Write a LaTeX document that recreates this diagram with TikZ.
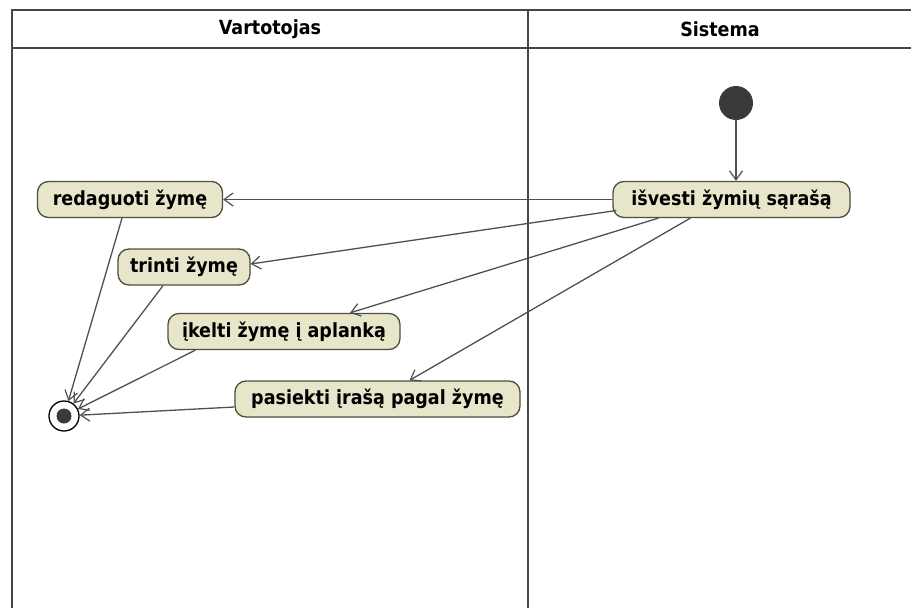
\documentclass[tikz,border=0pt]{standalone}
\usepackage{fontspec}
\setmainfont{DejaVu Sans Condensed}
\usetikzlibrary{arrows.meta}
\definecolor{actfill}{RGB}{232,230,202}
\definecolor{actline}{RGB}{78,78,62}
\definecolor{flowline}{RGB}{80,80,80}
\definecolor{laneline}{RGB}{70,70,70}
\definecolor{dot}{RGB}{58,58,58}
\tikzset{
  action/.style={draw=actline, fill=actfill, line width=1.3pt, rounded corners=11pt,
    inner sep=0pt, minimum height=36pt, font=\bfseries\fontsize{19.5}{21}\selectfont},
  flow/.style={draw=flowline, line width=1.3pt,
    -{Straight Barb[length=9pt,width=13pt,line width=1.2pt]}},
  lane/.style={draw=laneline, line width=2.6pt},
  lanetitle/.style={font=\bfseries\fontsize{19.5}{21}\selectfont},
  initial/.style={circle, fill=dot, inner sep=0pt, minimum size=34pt},
  final/.style={circle, draw=black, line width=1.3pt, fill=white, inner sep=0pt, minimum size=30pt},
}
\begin{document}
\begin{tikzpicture}[x=1pt,y=-1pt]
\useasboundingbox (0,0) rectangle (911,608);
% swimlane frame
\draw[lane] (12,620) -- (12,10) -- (920,10);
\draw[lane] (12,48) -- (920,48);
\draw[lane] (528,10) -- (528,620);
\node[lanetitle] (laneA) at (270,29) {Vartotojas};
\node[lanetitle] (laneB) at (720,29) {Sistema};

% activities
\node[action, minimum width=185pt] (redaguoti) at (130,199.5) {redaguoti žymę};
\node[action, minimum width=132pt] (trinti) at (184,267) {trinti žymę};
\node[action, minimum width=232pt] (ikelti) at (284,331.5) {įkelti žymę į aplanką};
\node[action, minimum width=285pt] (pasiekti) at (377.5,399) {pasiekti įrašą pagal žymę};
\node[action, minimum width=237pt] (isvesti) at (731.5,199.5) {išvesti žymių sąrašą};

% start and end
\node[initial] (start) at (736,103) {};
\node[final] (end) at (64,416) {};
\node[circle, fill=dot, inner sep=0pt, minimum size=15pt] (enddot) at (end.center) {};

% flows
\draw[flow] (start) -- (start |- isvesti.north);
\draw[flow] (isvesti.west) -- (redaguoti.east);
\draw[flow] ([xshift=4pt,yshift=-11pt]isvesti.west) -- ([yshift=3pt]trinti.east);
\draw[flow] ([xshift=46pt]isvesti.south west) -- ([xshift=66pt]ikelti.north);
\draw[flow] ([xshift=78pt]isvesti.south west) -- ([xshift=32pt]pasiekti.north);
\draw[flow] ([xshift=-8pt]redaguoti.south) -- (end);
\draw[flow] ([xshift=-21pt]trinti.south) -- (end);
\draw[flow] ([xshift=28pt]ikelti.south west) -- (end);
\draw[flow] ([yshift=-8pt]pasiekti.west) -- (end);
\end{tikzpicture}
\end{document}
